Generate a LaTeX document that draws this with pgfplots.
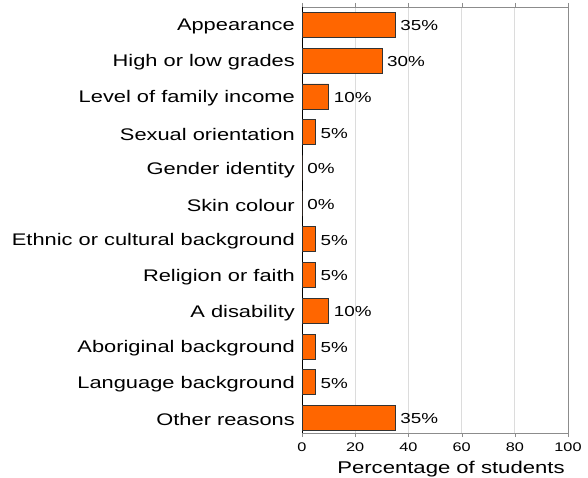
\documentclass[border=0pt]{standalone}
\usepackage{pgfplots}
\pgfplotsset{compat=1.18}
\usepackage{fontspec}
\setmainfont{Liberation Sans}[FakeStretch=1.3]
\definecolor{barorange}{HTML}{FF6600}
\definecolor{framegray}{HTML}{8C8C8C}
\definecolor{gridgray}{HTML}{DCDCDC}
\begin{document}
\begin{tikzpicture}
\path[use as bounding box] (0,0) rectangle (588pt,477pt);
\begin{axis}[
  at={(302pt,44pt)}, anchor=south west,
  scale only axis, width=266pt, height=426pt,
  xbar, bar width=25pt, bar shift=0pt,
  xmin=0, xmax=100, ymin=-0.42, ymax=11.5,
  xtick={0,20,40,60,80,100},
  ytick={0,...,11},
  yticklabels={Other reasons,Language background,Aboriginal background,A disability,Religion or faith,Ethnic or cultural background,Skin colour,Gender identity,Sexual orientation,Level of family income,High or low grades,Appearance},
  /pgf/number format/assume math mode=true,
  yticklabel style={font=\fontsize{16.8}{20}\selectfont, inner sep=3pt, yshift=-2pt},
  xticklabel style={font=\fontsize{12.5}{14}\selectfont, yshift=-2pt},
  ytick style={draw=none},
  xtick style={draw=framegray},
  tick align=outside, major tick length=4pt,
  xmajorgrids, grid style={gridgray, line width=0.8pt},
  axis line style={framegray, line width=0.8pt},
  extra x ticks={0}, extra x tick labels={},
  extra x tick style={grid style={black, line width=0.8pt}, major tick length=0pt},
  xlabel={Percentage of students},
  xlabel style={font=\fontsize{17}{20}\selectfont, at={(axis description cs:0.56,0)}, anchor=north, yshift=-25pt},
  nodes near coords={\pgfmathprintnumber{\pgfplotspointmeta}\%},
  point meta=x,
  nodes near coords style={font=\fontsize{14.5}{16}\selectfont, black, anchor=west, inner sep=5pt, yshift=-1pt},
  clip=false,
]
\addplot[fill=barorange, draw=black!80, line width=0.6pt] coordinates {
  (35,0) (5,1) (5,2) (10,3) (5,4) (5,5) (0,6) (0,7) (5,8) (10,9) (30,10) (35,11)
};
\end{axis}
\end{tikzpicture}
\end{document}
